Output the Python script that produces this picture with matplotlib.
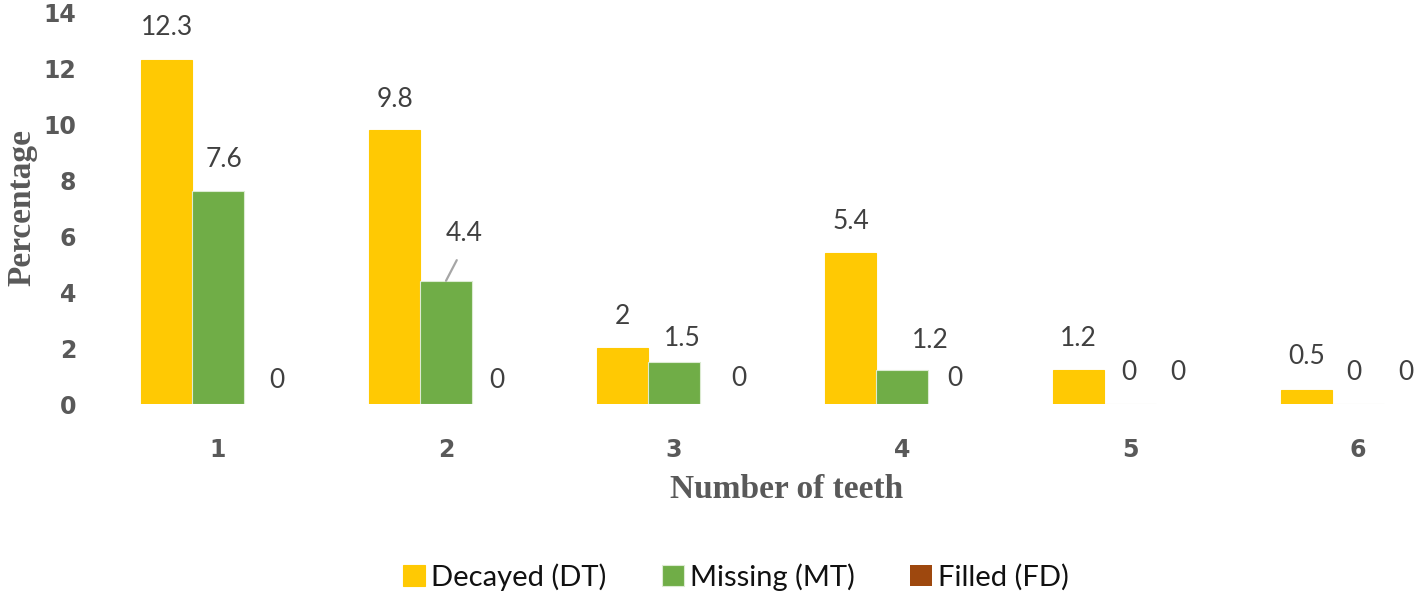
import matplotlib.pyplot as plt
import numpy as np

categories = ["1", "2", "3", "4", "5", "6"]
decayed = [12.3, 9.8, 2, 5.4, 1.2, 0.5]
missing = [7.6, 4.4, 1.5, 1.2, 0, 0]
filled = [0, 0, 0, 0, 0, 0]
series_names = ["Decayed (DT)", "Missing (MT)", "Filled (FD)"]
colors = ["#FFC903", "#70AD47", "#9E480E"]

# label offsets (pixels) from the top of each bar, as Excel placed them
label_offsets = [
    [(0, 32), (0, 30), (0, 32), (0, 31), (0, 32), (0, 33)],
    [(6, 32), (18, 47), (8, 23), (28, 30), (-1, 32), (-4, 32)],
    [(8, 24), (0, 24), (14, 26), (2, 26), (-3, 32), (-3, 32)],
]

W, H = 1418, 602
fig = plt.figure(figsize=(W / 100, H / 100), dpi=100)
ax = fig.add_axes([104 / W, 1 - 404 / H, 1 - 104 / W, (404 - 12) / H])

step = 228.0  # pixels between categories
x = np.arange(1, len(categories) + 1)
bw = 0.225
series = [decayed, missing, filled]
bars = []
for i, (vals, name, c) in enumerate(zip(series, series_names, colors)):
    b = ax.bar(x + (i - 1) * bw, vals, bw, color=c, label=name,
               edgecolor="#dcebd2" if i == 1 else c,
               linewidth=0.8 if i < 2 else 0)
    bars.append(b)

label_color = "#404040"
for i, vals in enumerate(series):
    for j, v in enumerate(vals):
        xc = x[j] + (i - 1) * bw
        dx, dy = label_offsets[i][j]
        kw = dict(xytext=(dx, dy), textcoords="offset pixels", ha="center",
                  va="center", fontsize=19, color=label_color, family="Lato")
        if i == 1 and j == 1:
            # label pulled out of the bar with a leader line
            kw["arrowprops"] = dict(arrowstyle="-", color="#a6a6a6", lw=1.6,
                                    relpos=(0.5, 0), shrinkA=9, shrinkB=0)
        ax.annotate("{:g}".format(v), (xc, v), **kw)

ax.set_xlim(0.5, 0.5 + (W - 104) / step)
ax.set_ylim(0, 14)
ax.set_yticks(range(0, 15, 2))
ax.set_xticks(x)
ax.set_xticklabels(categories)
for s in ax.spines.values():
    s.set_visible(False)
ax.tick_params(axis="both", length=0, colors="#595959", labelsize=17)
ax.tick_params(axis="x", pad=24.5)
ax.tick_params(axis="y", pad=20)
for lab in ax.get_xticklabels() + ax.get_yticklabels():
    lab.set_fontweight("bold")
    lab.set_fontfamily("DejaVu Sans")

fig.text(22 / W, 1 - 208 / H, "Percentage", rotation=90, fontsize=24,
         fontweight="bold", color="#595959", family="Liberation Serif",
         ha="center", va="center")
fig.text(787 / W, 1 - 489 / H, "Number of teeth", fontsize=24, fontweight="bold",
         color="#595959", family="Liberation Serif", ha="center", va="center")

fig.legend(handles=bars, labels=series_names, loc="center", ncol=3,
           bbox_to_anchor=(736 / W, 1 - 577 / H), frameon=False,
           handlelength=0.75, handleheight=0.75, handletextpad=0.2,
           columnspacing=1.9, prop={"family": "Lato", "size": 21},
           labelcolor="#111111")

fig.savefig("out.png", dpi=100)
